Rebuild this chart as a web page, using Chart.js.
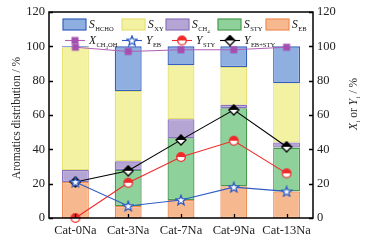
<!DOCTYPE html>
<html>
<head>
<meta charset="utf-8">
<script src="https://cdn.jsdelivr.net/npm/chart.js@4.4.0/dist/chart.umd.min.js"></script>
<style>
  html, body { margin: 0; padding: 0; background: #fff; }
  #wrap { width: 366px; height: 242px; position: relative; }
</style>
</head>
<body>
<div id="wrap"><canvas id="chart1"></canvas></div>
<script>
// categories and values
const categories = ["Cat-0Na", "Cat-3Na", "Cat-7Na", "Cat-9Na", "Cat-13Na"];
const sEB   = [21, 7, 10.5, 18.5, 15.5];
const sSTY  = [0, 21, 36, 45.5, 25.5];
const sCH4  = [7, 5, 11, 2, 3];
const sXY   = [71.5, 41, 31.5, 22, 34.5];
const sHCHO = [0.5, 26, 11, 12, 21.5];

const xCH3OH = [99.5, 97, 98, 98, 99.5];
const yEB    = [21, 7, 10.5, 18, 15.5];
const ySTY   = [0, 20.5, 35.5, 45, 26];
const yEBSTY = [21, 27.5, 45.5, 63, 41.5];

const yTicks = [0, 20, 40, 60, 80, 100, 120];

const SERIF = "'Liberation Serif', 'DejaVu Serif', serif";

// marker images
function makeMarker(kind) {
    const c = document.createElement("canvas");
    c.width = 12; c.height = 12;
    const g = c.getContext("2d");
    const cx = 6, cy = 6;
    g.lineWidth = 1.3;
    if (kind === "square") {
        g.fillStyle = "#a54fb0";
        g.fillRect(cx - 3.5, cy - 3.5, 7, 7);
    } else if (kind === "star") {
        g.beginPath();
        for (let i = 0; i < 10; i++) {
            const r = i % 2 === 0 ? 5.2 : 2.2;
            const a = -Math.PI / 2 + i * Math.PI / 5;
            g.lineTo(cx + r * Math.cos(a), cy + 0.5 + r * Math.sin(a));
        }
        g.closePath();
        g.fillStyle = "#fff";
        g.fill();
        g.strokeStyle = "#2f5cc4";
        g.stroke();
    } else if (kind === "halfcircle") {
        g.beginPath();
        g.arc(cx, cy, 4.3, 0, 2 * Math.PI);
        g.fillStyle = "#fff";
        g.fill();
        g.beginPath();
        g.arc(cx, cy, 4.3, Math.PI, 2 * Math.PI);
        g.closePath();
        g.fillStyle = "#f02a2a";
        g.fill();
        g.beginPath();
        g.arc(cx, cy, 4.3, 0, 2 * Math.PI);
        g.strokeStyle = "#f02a2a";
        g.stroke();
    } else if (kind === "halfdiamond") {
        g.beginPath();
        g.moveTo(cx, cy - 5); g.lineTo(cx + 5, cy); g.lineTo(cx, cy + 5); g.lineTo(cx - 5, cy);
        g.closePath();
        g.fillStyle = "#fff";
        g.fill();
        g.beginPath();
        g.moveTo(cx, cy - 5); g.lineTo(cx + 5, cy); g.lineTo(cx - 5, cy);
        g.closePath();
        g.fillStyle = "#000";
        g.fill();
        g.beginPath();
        g.moveTo(cx, cy - 5); g.lineTo(cx + 5, cy); g.lineTo(cx, cy + 5); g.lineTo(cx - 5, cy);
        g.closePath();
        g.strokeStyle = "#000";
        g.stroke();
    }
    return c;
}
const markers = {
    square: makeMarker("square"),
    star: makeMarker("star"),
    halfcircle: makeMarker("halfcircle"),
    halfdiamond: makeMarker("halfdiamond"),
};

function barSet(label, data, fill, border) {
    return {
        type: "bar", label, data, order: 2,
        backgroundColor: fill, borderColor: border, borderWidth: 1.3,
        borderSkipped: false,
        barPercentage: 0.51, categoryPercentage: 1,
        stack: "s", yAxisID: "y",
    };
}
function lineSet(label, data, color, marker) {
    return {
        type: "line", label, data, order: 1,
        borderColor: color, backgroundColor: color, borderWidth: 1.1,
        pointStyle: markers[marker], pointRadius: 5,
        yAxisID: "y1", clip: false, tension: 0,
    };
}

// draw italic letter with subscript pieces: [text, level]
function drawSub(ctx, main, subs, x, y) {
    ctx.textBaseline = "alphabetic";
    ctx.textAlign = "left";
    ctx.font = `italic 11.5px ${SERIF}`;
    ctx.fillText(main, x, y);
    let cx = x + ctx.measureText(main).width + 0.5;
    subs.forEach(([t, lvl]) => {
        ctx.font = `${lvl === 2 ? 5 : 6.5}px ${SERIF}`;
        ctx.fillText(t, cx, y + (lvl === 2 ? 4.5 : 3));
        cx += ctx.measureText(t).width;
    });
}

const decorPlugin = {
    id: "decor",
    afterDatasetsDraw(chart) {
        const { ctx, chartArea: a, scales } = chart;
        ctx.save();
        ctx.strokeStyle = "#000";
        ctx.lineWidth = 1.3;
        // ticks (inward)
        yTicks.forEach(v => {
            const py = Math.round(scales.y.getPixelForValue(v)) + 0.5;
            ctx.beginPath();
            ctx.moveTo(a.left, py); ctx.lineTo(a.left + 4, py);
            ctx.moveTo(a.right, py); ctx.lineTo(a.right - 4, py);
            ctx.stroke();
        });
        categories.forEach((c, i) => {
            const px = Math.round(scales.x.getPixelForValue(i)) + 0.5;
            ctx.beginPath();
            ctx.moveTo(px, a.bottom); ctx.lineTo(px, a.bottom - 4);
            ctx.stroke();
        });
        // frame
        ctx.lineWidth = 1.5;
        ctx.strokeRect(a.left, a.top, a.right - a.left, a.bottom - a.top);

        // legend row 1: boxes
        const boxes = [
            [63, "#8eafe0", "#3660bd", "S", [["HCHO", 1]]],
            [122, "#f2f2a2", "#e6e070", "S", [["XY", 1]]],
            [166, "#b5a5d5", "#8a74bd", "S", [["CH", 1], ["4", 2]]],
            [218, "#8fd19b", "#46994f", "S", [["STY", 1]]],
            [266, "#f6b98f", "#f08c55", "S", [["EB", 1]]],
        ];
        boxes.forEach(([x, f, b, m, s]) => {
            ctx.fillStyle = f;
            ctx.fillRect(x, 19, 23, 11);
            ctx.strokeStyle = b;
            ctx.lineWidth = 1.2;
            ctx.strokeRect(x, 19, 23, 11);
            ctx.fillStyle = "#111";
            drawSub(ctx, m, s, x + 26, 28);
        });
        // legend row 2: lines with markers
        const lines = [
            [65, "#b060b5", "square", "X", [["CH", 1], ["3", 2], ["OH", 1]]],
            [122, "#2f5cc4", "star", "Y", [["EB", 1]]],
            [172, "#f02a2a", "halfcircle", "Y", [["STY", 1]]],
            [220, "#000", "halfdiamond", "Y", [["EB+STY", 1]]],
        ];
        lines.forEach(([x, col, mk, m, s]) => {
            ctx.strokeStyle = col;
            ctx.lineWidth = 1.1;
            ctx.beginPath();
            ctx.moveTo(x, 40.5); ctx.lineTo(x + 20, 40.5);
            ctx.stroke();
            const img = markers[mk];
            ctx.drawImage(img, x + 10 - 6, 40.5 - 6);
            ctx.fillStyle = "#111";
            drawSub(ctx, m, s, x + 24, 44);
        });

        // axis titles
        ctx.fillStyle = "#222";
        ctx.save();
        ctx.translate(17, 118);
        ctx.rotate(-Math.PI / 2);
        ctx.textAlign = "center";
        ctx.textBaseline = "middle";
        ctx.font = `11.5px ${SERIF}`;
        ctx.fillText("Aromatics distribution / %", 0, 0);
        ctx.restore();

        ctx.save();
        ctx.translate(354, 104);
        ctx.rotate(-Math.PI / 2);
        ctx.textBaseline = "middle";
        const parts = [["X", "i"], [" or ", null], ["Y", "i"], [" / %", null]];
        let w = 0;
        const seg = [];
        parts.forEach(([t, sub]) => {
            ctx.font = sub ? `italic 11.5px ${SERIF}` : `11.5px ${SERIF}`;
            const tw = ctx.measureText(t).width;
            let sw = 0;
            if (sub) { ctx.font = `7px ${SERIF}`; sw = ctx.measureText(sub).width + 0.5; }
            seg.push([t, sub, tw, sw]);
            w += tw + sw;
        });
        let cx = -w / 2;
        seg.forEach(([t, sub, tw, sw]) => {
            ctx.font = sub ? `italic 11.5px ${SERIF}` : `11.5px ${SERIF}`;
            ctx.textAlign = "left";
            ctx.fillText(t, cx, 0);
            cx += tw;
            if (sub) {
                ctx.font = `7px ${SERIF}`;
                ctx.fillText(sub, cx + 0.5, 4);
                cx += sw;
            }
        });
        ctx.restore();
        ctx.restore();
    }
};

const tickFont = { family: SERIF, size: 12.5 };

new Chart(document.getElementById("chart1").getContext("2d"), {
    data: {
        labels: categories,
        datasets: [
            barSet("S_EB", sEB, "#f6b98f", "#f08c55"),
            barSet("S_STY", sSTY, "#8fd19b", "#46994f"),
            barSet("S_CH4", sCH4, "#b5a5d5", "#8a74bd"),
            barSet("S_XY", sXY, "#f2f2a2", "#e6e070"),
            barSet("S_HCHO", sHCHO, "#8eafe0", "#3660bd"),
            lineSet("X_CH3OH", xCH3OH, "#b060b5", "square"),
            lineSet("Y_EB", yEB, "#2f5cc4", "star"),
            lineSet("Y_STY", ySTY, "#f02a2a", "halfcircle"),
            lineSet("Y_EB+STY", yEBSTY, "#000", "halfdiamond"),
        ],
    },
    options: {
        responsive: true,
        maintainAspectRatio: false,
        animation: false,
        layout: { padding: { top: 12, left: 0, right: 0, bottom: 0 } },
        plugins: { legend: { display: false }, tooltip: { enabled: false } },
        scales: {
            x: {
                stacked: true,
                grid: { display: false, drawTicks: false },
                border: { display: false },
                ticks: { color: "#222", font: tickFont, padding: 5, maxRotation: 0 },
                afterFit: s => { s.height = 24; },
            },
            y: {
                stacked: true, min: 0, max: 120,
                grid: { display: false, drawTicks: false },
                border: { display: false },
                ticks: { stepSize: 20, color: "#222", font: tickFont, padding: 4 },
                afterFit: s => { s.width = 49; },
            },
            y1: {
                position: "right", min: 0, max: 120,
                grid: { display: false, drawTicks: false },
                border: { display: false },
                ticks: { stepSize: 20, color: "#222", font: tickFont, padding: 4 },
                afterFit: s => { s.width = 53; },
            },
        },
    },
    plugins: [decorPlugin],
});
</script>
</body>
</html>
